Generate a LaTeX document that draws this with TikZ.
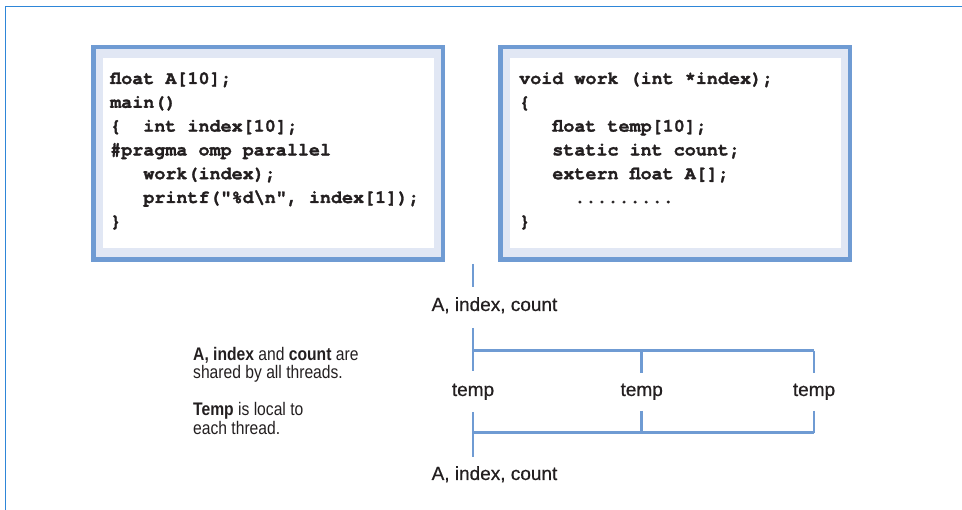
\documentclass[tikz,border=0pt]{standalone}
\usepackage{fontspec}
\setmainfont{Liberation Sans}
\newfontfamily\codefont{texgyrecursor}[Extension=.otf, UprightFont=*-regular,
  BoldFont=*-bold, BoldFeatures={FakeBold=1.6}]
\newfontfamily\labelfont{Liberation Sans}[FakeBold=0.6]
\newfontfamily\notefont{Liberation Sans}[FakeStretch=0.86]
\definecolor{frameblue}{HTML}{2E86D8}
\definecolor{boxblue}{HTML}{6F9BD3}
\definecolor{bandfill}{HTML}{E1E7F4}
\definecolor{ink}{HTML}{231F20}
\tikzset{
  codebox/.style={draw=boxblue, line width=4.5pt, fill=bandfill, inner sep=0pt,
    minimum width=349.5pt, minimum height=212.5pt},
  codepane/.style={fill=white, inner sep=0pt, minimum width=331pt, minimum height=190pt},
  codeline/.style={anchor=base west, inner sep=0pt, text=ink,
    font=\codefont\bfseries\fontsize{18.4}{20}\selectfont},
  varlabel/.style={anchor=base, inner sep=0pt, text=ink,
    font=\labelfont\fontsize{19}{22}\selectfont},
  noteline/.style={anchor=base west, inner sep=0pt, text=ink,
    font=\notefont\fontsize{18.2}{20}\selectfont},
  wire/.style={draw=boxblue, line width=2.5pt},
}
\begin{document}
\begin{tikzpicture}[x=1pt, y=-1pt]
\useasboundingbox (0,0) rectangle (962,510);

% page frame: top and left rules
\draw[frameblue, line width=1.6pt] (962,6.5) -- (5.5,6.5) -- (5.5,510);

% code panels
\node[codebox] (mainbox) at (268,153.5) {};
\node[codepane] (mainpane) at (268.5,153) {};
\node[codebox] (workbox) at (675,153.5) {};
\node[codepane] (workpane) at (675.5,153) {};

% main program
\node[codeline] (m1) at (110,84)    {float A[10];};
\node[codeline] (m2) at (110,107.8) {main()};
\node[codeline] (m3) at (110,131.6) {\{\hphantom{00}int index[10];};
\node[codeline] (m4) at (110,155.4) {\#pragma omp parallel};
\node[codeline] (m5) at (110,179.2) {\hphantom{000}work(index);};
\node[codeline] (m6) at (110,203)   {\hphantom{000}printf("\%d\textbackslash n", index[1]);};
\node[codeline] (m7) at (110,226.8) {\}};

% work routine
\node[codeline] (w1) at (519,84)    {void work (int *index);};
\node[codeline] (w2) at (519,107.8) {\{};
\node[codeline] (w3) at (519,131.6) {\hphantom{000}float temp[10];};
\node[codeline] (w4) at (519,155.4) {\hphantom{000}static int count;};
\node[codeline] (w5) at (519,179.2) {\hphantom{000}extern float A[];};
\node[codeline] (w6) at (519,203)   {\hphantom{00000}.........};
\node[codeline] (w7) at (519,226.8) {\}};

% variable labels
\node[varlabel] (sharedTop) at (494.5,311) {A, index, count};
\node[varlabel] (temp1) at (473,396) {temp};
\node[varlabel] (temp2) at (641.7,396) {temp};
\node[varlabel] (temp3) at (814,396) {temp};
\node[varlabel] (sharedBot) at (494.5,480) {A, index, count};

% junction points of the thread tree
\coordinate (stubA) at (473,264);
\coordinate (stubB) at (473,287);
\coordinate (forkTop) at (473,328);
\coordinate (forkL) at (473,350.7);
\coordinate (forkM) at (641.7,350.7);
\coordinate (forkR) at (814,350.7);
\coordinate (legL) at (473,371);
\coordinate (legM) at (641.7,373);
\coordinate (legR) at (814,373);
\coordinate (joinTopL) at (473,412);
\coordinate (joinTopM) at (641.7,411);
\coordinate (joinTopR) at (814,411);
\coordinate (joinL) at (473,432.7);
\coordinate (joinM) at (641.7,432.7);
\coordinate (joinR) at (814,432.7);
\coordinate (joinEnd) at (473,456.7);

% fork into threads
\draw[wire] (stubA) -- (stubB);
\draw[wire] (forkTop) -- (legL);
\draw[wire] (forkL) -- (forkR);
\draw[wire] (forkM) -- (legM);
\draw[wire] (forkR) -- (legR);

% join of threads
\draw[wire] (joinTopL) -- (joinEnd);
\draw[wire] (joinL) -- (joinR);
\draw[wire] (joinTopM) -- (joinM);
\draw[wire] (joinTopR) -- (joinR);

% explanatory notes
\node[noteline] (n1) at (193,361) {\textbf{A, index} and \textbf{count} are};
\node[noteline] (n2) at (193,379) {shared by all threads.};
\node[noteline] (n3) at (193,416) {\textbf{Temp} is local to};
\node[noteline] (n4) at (193,435) {each thread.};
\end{tikzpicture}
\end{document}
